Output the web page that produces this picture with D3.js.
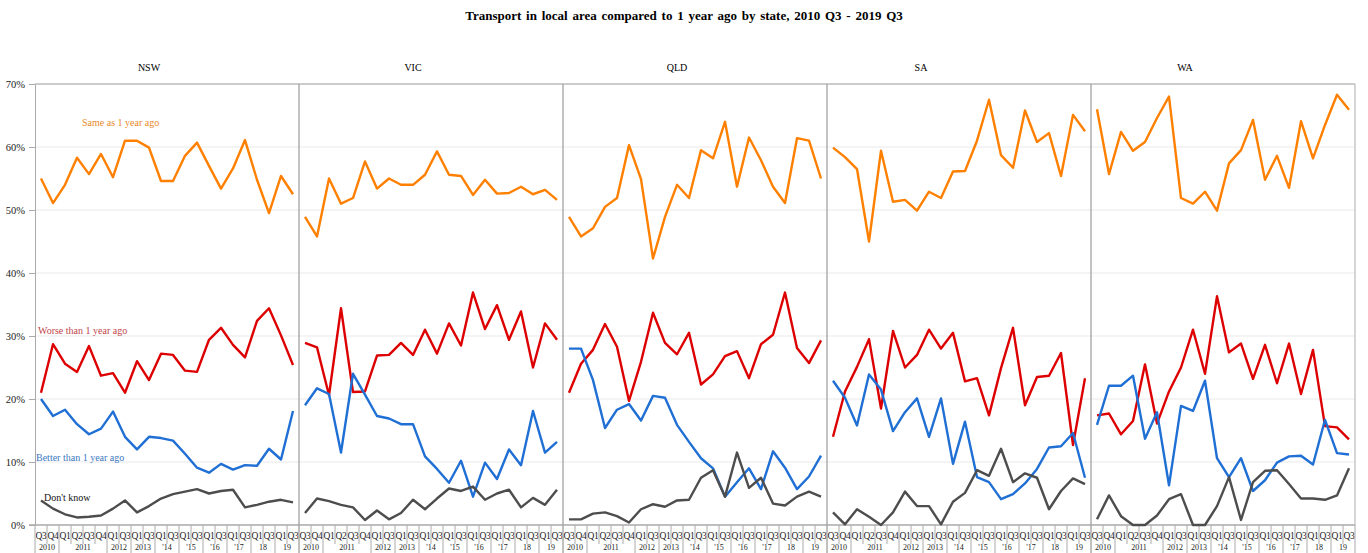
<!DOCTYPE html>
<html>
<head>
<meta charset="utf-8">
<script src="https://cdn.jsdelivr.net/npm/d3@7"></script>
<style>
	body { margin: 0; background: #fff; }
	svg { font-family: 'Liberation Serif', 'DejaVu Serif', serif; }
</style>
</head>
<body>
<svg id="svg" width="1368" height="553"></svg>
<script>
// data
const states = ['NSW', 'VIC', 'QLD', 'SA', 'WA'];
const quarters = ['Q3', 'Q4', 'Q1', 'Q2', 'Q3', 'Q4', 'Q1', 'Q3', 'Q1', 'Q3', 'Q1', 'Q3',
	'Q1', 'Q3', 'Q1', 'Q3', 'Q1', 'Q3', 'Q1', 'Q3', 'Q1', 'Q3'];
const years = ['2010', '2011', '2012', '2013', "'14", "'15", "'16", "'17", '18', '19'];
const yearSpans = [2, 4, 2, 2, 2, 2, 2, 2, 2, 2];
const yTicks = [0, 10, 20, 30, 40, 50, 60, 70];

// one row per state, in the order of states
const same = [
	[55.0, 51.1, 54.0, 58.3, 55.7, 58.9, 55.2, 61.0, 61.0, 59.9, 54.6, 54.6, 58.6, 60.7, 57.0, 53.4, 56.6, 61.1, 54.8, 49.5, 55.4, 52.5],
	[48.9, 45.8, 55.0, 51.0, 51.9, 57.7, 53.4, 55.0, 54.0, 54.0, 55.6, 59.3, 55.6, 55.4, 52.4, 54.8, 52.6, 52.7, 53.7, 52.5, 53.2, 51.6],
	[48.9, 45.8, 47.1, 50.5, 51.9, 60.3, 54.9, 42.3, 48.9, 54.0, 51.9, 59.5, 58.2, 64.0, 53.7, 61.5, 57.9, 53.7, 51.1, 61.4, 61.0, 55.0],
	[59.9, 58.4, 56.5, 45.0, 59.4, 51.3, 51.6, 49.9, 52.9, 51.9, 56.1, 56.2, 61.0, 67.5, 58.7, 56.7, 65.8, 60.8, 62.2, 55.4, 65.1, 62.5],
	[66.0, 55.7, 62.4, 59.4, 60.8, 64.6, 68.0, 51.9, 51.0, 52.9, 49.9, 57.4, 59.5, 64.3, 54.8, 58.6, 53.5, 64.1, 58.2, 63.5, 68.3, 65.9]
];
const worse = [
	[21.0, 28.7, 25.6, 24.3, 28.4, 23.7, 24.1, 21.0, 26.0, 23.0, 27.2, 27.0, 24.5, 24.3, 29.4, 31.3, 28.6, 26.6, 32.4, 34.4, 30.1, 25.4],
	[28.9, 28.2, 20.6, 34.4, 21.1, 21.2, 26.9, 27.0, 28.9, 27.0, 31.0, 27.2, 32.0, 28.5, 36.9, 31.1, 34.9, 29.4, 33.9, 25.0, 32.0, 29.4],
	[21.0, 25.6, 27.8, 31.9, 28.3, 19.7, 25.9, 33.7, 28.9, 27.1, 30.5, 22.3, 23.9, 26.8, 27.6, 23.3, 28.7, 30.2, 36.9, 28.1, 25.7, 29.3],
	[14.0, 21.2, 25.1, 29.5, 18.5, 30.8, 25.0, 27.0, 31.0, 28.0, 30.5, 22.8, 23.3, 17.4, 24.9, 31.3, 19.0, 23.5, 23.7, 27.3, 12.7, 23.3],
	[17.4, 17.7, 14.4, 16.5, 25.5, 16.1, 21.2, 25.0, 31.0, 24.0, 36.3, 27.4, 28.8, 23.2, 28.6, 22.5, 28.8, 20.8, 27.8, 15.7, 15.5, 13.6]
];
const better = [
	[20.0, 17.3, 18.3, 16.0, 14.4, 15.3, 18.0, 14.0, 12.0, 14.0, 13.8, 13.4, 11.3, 9.1, 8.3, 9.7, 8.8, 9.5, 9.4, 12.1, 10.4, 18.1],
	[19.0, 21.7, 20.8, 11.5, 24.0, 20.7, 17.3, 16.9, 16.0, 16.0, 10.9, 8.9, 6.7, 10.2, 4.5, 9.9, 7.3, 12.0, 9.5, 18.1, 11.5, 13.2],
	[28.0, 28.0, 23.0, 15.4, 18.3, 19.2, 16.6, 20.5, 20.2, 15.9, 13.2, 10.6, 9.0, 4.5, 6.8, 9.0, 5.7, 11.7, 9.1, 5.7, 7.7, 11.0],
	[22.9, 20.2, 15.8, 23.9, 21.5, 14.9, 17.9, 20.1, 14.0, 20.1, 9.7, 16.4, 7.6, 6.8, 4.1, 4.9, 6.6, 8.9, 12.3, 12.5, 14.6, 7.5],
	[15.9, 22.1, 22.1, 23.7, 13.7, 17.9, 6.3, 18.9, 18.1, 22.9, 10.6, 7.6, 10.6, 5.4, 7.1, 9.9, 10.9, 11.0, 9.6, 16.7, 11.4, 11.2]
];
const dontKnow = [
	[3.9, 2.6, 1.7, 1.2, 1.3, 1.5, 2.6, 3.9, 2.0, 3.0, 4.2, 4.9, 5.3, 5.7, 5.0, 5.4, 5.6, 2.8, 3.2, 3.7, 4.0, 3.6],
	[1.9, 4.2, 3.8, 3.2, 2.8, 0.8, 2.3, 0.9, 1.9, 4.0, 2.5, 4.2, 5.8, 5.4, 6.1, 4.0, 5.0, 5.6, 2.8, 4.3, 3.2, 5.6],
	[0.9, 0.9, 1.8, 2.0, 1.4, 0.4, 2.5, 3.3, 2.9, 3.9, 4.0, 7.5, 8.7, 4.5, 11.5, 5.9, 7.5, 3.4, 3.1, 4.5, 5.3, 4.5],
	[2.0, 0.1, 2.5, 1.3, 0.0, 2.0, 5.3, 3.0, 3.0, 0.1, 3.7, 5.1, 8.7, 7.8, 12.1, 6.8, 8.2, 7.5, 2.5, 5.4, 7.4, 6.5],
	[0.9, 4.7, 1.4, 0.0, 0.0, 1.5, 4.1, 4.9, 0.0, 0.0, 3.0, 7.6, 0.8, 6.8, 8.6, 8.7, 6.5, 4.2, 4.2, 4.0, 4.7, 9.0]
];

const series = [
	{ name: 'Same as 1 year ago', values: same, color: '#ff8000', text: '#e8892a', lx: 82, ly: 126 },
	{ name: 'Worse than 1 year ago', values: worse, color: '#dd0000', text: '#c0454a', lx: 38, ly: 334 },
	{ name: 'Better than 1 year ago', values: better, color: '#1f6fd4', text: '#3a78c2', lx: 36, ly: 461 },
	{ name: "Don't know", values: dontKnow, color: '#4d4d4d', text: '#111', lx: 44, ly: 501 }
];

// layout
const margin = { top: 84, right: 13, bottom: 28, left: 35 };
const width = 1368 - margin.left - margin.right;
const height = 553 - margin.bottom;

const svg = d3.select('#svg');

const panelScale = d3.scaleBand()
	.domain(states)
	.range([margin.left, margin.left + width]);

const yscale = d3.scaleLinear()
	.domain([0, 70])
	.range([height, margin.top]);

// title
svg.append('text')
	.attr('x', 684)
	.attr('y', 20)
	.attr('text-anchor', 'middle')
	.attr('font-size', 13)
	.attr('font-weight', 'bold')
	.attr('word-spacing', 1.5)
	.text('Transport  in local area compared to 1 year ago by state, 2010 Q3 - 2019 Q3');

// gridlines
svg.append('g')
	.selectAll('line')
	.data(yTicks.slice(1, -1))
	.enter()
	.append('line')
	.attr('x1', margin.left)
	.attr('x2', margin.left + width)
	.attr('y1', (d) => yscale(d))
	.attr('y2', (d) => yscale(d))
	.attr('stroke', '#e9e9e9');

// left axis
const leftAxis = d3.axisLeft(yscale)
	.tickValues(yTicks)
	.tickSize(6)
	.tickFormat((d) => d + '%');

const yAxisG = svg.append('g')
	.attr('transform', `translate(${margin.left}, 0)`)
	.call(leftAxis);
yAxisG.select('.domain').attr('stroke', '#aaa');
yAxisG.selectAll('.tick line').attr('stroke', '#aaa');
yAxisG.selectAll('.tick text')
	.attr('x', -10)
	.attr('font-family', "'Liberation Serif', serif")
	.attr('font-size', 10.5)
	.attr('fill', '#222');

// top border and bottom baseline
svg.append('line')
	.attr('x1', margin.left).attr('x2', margin.left + width)
	.attr('y1', yscale(70)).attr('y2', yscale(70))
	.attr('stroke', '#bbb').attr('stroke-width', 1.5);
svg.append('line')
	.attr('x1', margin.left - 6).attr('x2', margin.left + width)
	.attr('y1', yscale(0)).attr('y2', yscale(0))
	.attr('stroke', '#aaa').attr('stroke-width', 1.5);

// panels
const lineGen = (xs) => d3.line()
	.x((d, i) => xs(i) + xs.bandwidth() / 2)
	.y((d) => yscale(d));

states.forEach((st, si) => {
	const x0 = panelScale(st);
	const xs = d3.scaleBand()
		.domain(d3.range(quarters.length))
		.range([x0, x0 + panelScale.bandwidth()]);

	const g = svg.append('g');

	// panel label
	g.append('text')
		.attr('x', x0 + panelScale.bandwidth() / 2 - (si < 3 ? 18 : 38))
		.attr('y', 71)
		.attr('text-anchor', 'middle')
		.attr('font-size', 10)
		.text(st);

	// panel right border
	g.append('line')
		.attr('x1', x0 + panelScale.bandwidth())
		.attr('x2', x0 + panelScale.bandwidth())
		.attr('y1', yscale(70))
		.attr('y2', yscale(0))
		.attr('stroke', si < 4 ? '#999' : '#bbb')
		.attr('stroke-width', 1.2);

	// quarter axis
	const bottomAxis = d3.axisBottom(xs)
		.tickSize(0)
		.tickFormat((i) => quarters[i]);
	const ax = g.append('g')
		.attr('transform', `translate(0, ${height})`)
		.call(bottomAxis);
	ax.select('.domain').remove();
	ax.selectAll('.tick text')
		.attr('y', 7)
		.attr('font-family', "'Liberation Serif', serif")
		.attr('font-size', 9.5)
		.attr('letter-spacing', -0.4)
		.attr('fill', '#222');

	// separators between quarters
	g.selectAll('.sep')
		.data(d3.range(quarters.length + 1))
		.enter()
		.append('line')
		.attr('x1', (i) => x0 + i * xs.step())
		.attr('x2', (i) => x0 + i * xs.step())
		.attr('y1', height)
		.attr('y2', height + 19)
		.attr('stroke', '#aaa');

	// year labels
	let acc = 0;
	years.forEach((yr, yi) => {
		const start = acc;
		acc += yearSpans[yi];
		const xa = x0 + start * xs.step();
		const xb = x0 + acc * xs.step();
		g.append('line')
			.attr('x1', xb).attr('x2', xb)
			.attr('y1', height + 19).attr('y2', 553)
			.attr('stroke', '#aaa');
		g.append('text')
			.attr('x', (xa + xb) / 2)
			.attr('y', 550)
			.attr('text-anchor', 'middle')
			.attr('font-size', 8)
			.attr('fill', '#222')
			.text(yr);
	});
	g.append('line')
		.attr('x1', x0).attr('x2', x0)
		.attr('y1', height + 19).attr('y2', 553)
		.attr('stroke', '#aaa');

	// lines
	series.forEach((s) => {
		g.append('path')
			.datum(s.values[si])
			.attr('d', lineGen(xs))
			.attr('fill', 'none')
			.attr('stroke', s.color)
			.attr('stroke-width', 2.4)
			.attr('stroke-linejoin', 'round');
	});
});

// series labels in first panel
svg.append('g')
	.selectAll('text')
	.data(series)
	.enter()
	.append('text')
	.attr('x', (d) => d.lx)
	.attr('y', (d) => d.ly)
	.attr('font-size', 10)
	.attr('fill', (d) => d.text)
	.text((d) => d.name);
</script>
</body>
</html>
